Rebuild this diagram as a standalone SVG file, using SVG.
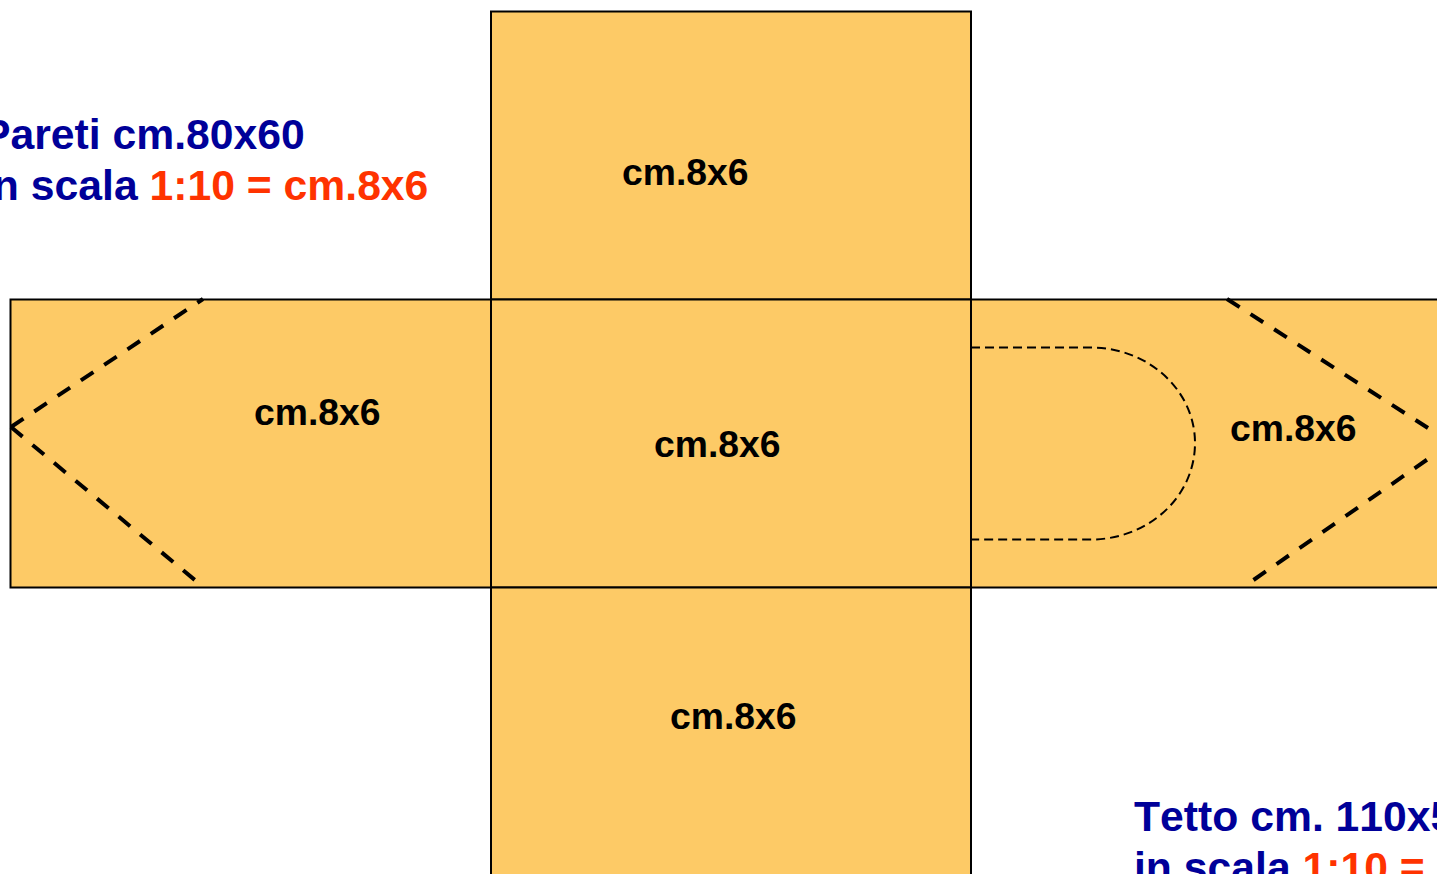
<svg xmlns="http://www.w3.org/2000/svg" width="1437" height="874" viewBox="0 0 1437 874">
<style>
.p{fill:#fdca66;stroke:#000;stroke-width:2}
.d{fill:none;stroke:#000;stroke-width:4;stroke-dasharray:15 13}
.f{fill:none;stroke:#000;stroke-width:2;stroke-dasharray:9 5}
text{font-family:"Liberation Sans",Arial,sans-serif;font-weight:bold;font-kerning:none}
.l{font-size:37.3px;fill:#000}
.t{font-size:42.7px;fill:#000099}
.r{fill:#ff3300}
</style>
<rect width="1437" height="874" fill="#fff"/>
<g id="panel-top"><rect class="p" x="491" y="11.500" width="480" height="288"/><text class="l" x="622" y="185">cm.8x6</text></g>
<g id="panel-left"><rect class="p" x="10.500" y="299.500" width="480.500" height="288"/><text class="l" x="254" y="425">cm.8x6</text></g>
<g id="panel-center"><rect class="p" x="491" y="299.500" width="480" height="288"/><text class="l" x="654" y="457">cm.8x6</text></g>
<g id="panel-right"><rect class="p" x="971" y="299.500" width="480" height="288"/><text class="l" x="1230" y="441">cm.8x6</text></g>
<g id="panel-bottom"><rect class="p" x="491" y="587.500" width="480" height="300"/><text class="l" x="670" y="729">cm.8x6</text></g>
<g id="fold-lines">
<path class="d" d="M11 427L203 299"/>
<path class="d" d="M11 427L196 581"/>
<path class="d" d="M1227 299L1428 428"/>
<path class="d" d="M1253.500 580L1428 459"/>
<path class="f" d="M971 347.500H1091C1148 347.500 1195 390 1195 443C1195 497 1148 539.500 1091 539.500H971"/>
</g>
<g id="label-pareti"><text class="t" x="-18" y="149">Pareti cm.80x60</text>
<text class="t" x="-19" y="200">in scala <tspan class="r">1:10 = cm.8x6</tspan></text></g>
<g id="label-tetto"><text class="t" x="1134" y="831">Tetto cm. 110x5</text>
<text class="t" x="1134" y="882">in scala <tspan class="r">1:10 =</tspan></text></g>
</svg>
